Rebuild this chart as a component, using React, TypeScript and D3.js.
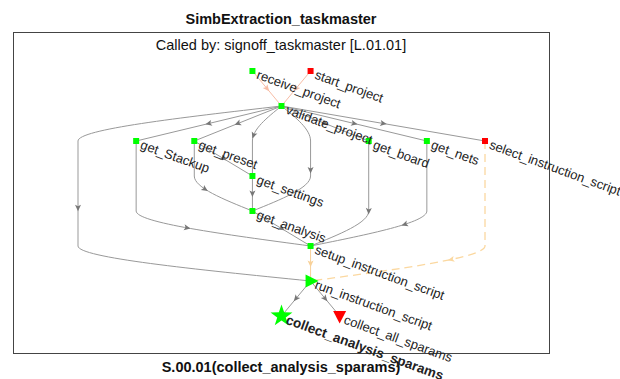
import React, { useEffect, useRef } from "react";
import * as d3 from "d3";

const W = 620;
const H = 379;

const titleText = "SimbExtraction_taskmaster";
const subtitleText = "Called by: signoff_taskmaster [L.01.01]";
const xlabelText = "S.00.01(collect_analysis_sparams)";

// Layered layout: column index and layer index of each node
const nodeNames = [
  "receive_project",
  "start_project",
  "validate_project",
  "get_Stackup",
  "get_preset",
  "get_settings",
  "get_analysis",
  "get_board",
  "get_nets",
  "select_instruction_script",
  "setup_instruction_script",
  "run_instruction_script",
  "collect_analysis_sparams",
  "collect_all_sparams",
];
const nodeCol = [3, 4, 3.5, 1, 2, 3, 3, 5, 6, 7, 4, 4, 3.5, 4.5];
const nodeLayer = [0, 0, 1, 2, 2, 3, 4, 2, 2, 2, 5, 6, 7, 7];
const nodeMarker = [
  "square", "square", "square", "square", "square", "square", "square",
  "square", "square", "square", "square", "triRight", "star", "triDown",
];
const nodeColor = [
  "#00ff00", "#ff0000", "#00ff00", "#00ff00", "#00ff00", "#00ff00", "#00ff00",
  "#00ff00", "#00ff00", "#ff0000", "#00ff00", "#00ff00", "#00ff00", "#ff0000",
];
const nodeBold = [false, false, false, false, false, false, false, false, false, false, false, false, true, false];

// Edges (source, target, intermediate routing points as [col, layer], style)
const edgeSource = [
  "start_project", "receive_project",
  "validate_project", "validate_project", "validate_project", "validate_project",
  "validate_project", "validate_project", "validate_project", "validate_project",
  "get_Stackup", "get_preset", "get_preset", "get_settings", "get_analysis",
  "get_board", "get_nets", "select_instruction_script", "setup_instruction_script",
  "run_instruction_script", "run_instruction_script",
];
const edgeTarget = [
  "validate_project", "validate_project",
  "get_Stackup", "get_preset", "get_settings", "get_analysis",
  "get_board", "get_nets", "select_instruction_script", "run_instruction_script",
  "setup_instruction_script", "get_settings", "get_analysis", "get_analysis", "setup_instruction_script",
  "setup_instruction_script", "setup_instruction_script", "run_instruction_script", "run_instruction_script",
  "collect_analysis_sparams", "collect_all_sparams",
];
const edgeVia: [number, number][][] = [
  [], [],
  [], [], [[3, 2]], [[4, 2], [4, 3]],
  [], [], [], [[0, 2], [0, 3], [0, 4], [0, 5]],
  [[1, 3], [1, 4]], [], [[2, 3]], [], [],
  [[5, 3], [5, 4]], [[6, 3], [6, 4]], [[7, 3], [7, 4], [7, 5]], [],
  [], [],
];
const edgeKind = [
  "salmon", "salmon",
  "grey", "grey", "grey", "grey", "grey", "grey", "grey", "grey",
  "grey", "grey", "grey", "grey", "grey",
  "grey", "grey", "dashed", "amber",
  "grey", "grey",
];

const edgeStyles: Record<string, { color: string; dash: string | null; width: number }> = {
  grey: { color: "#999999", dash: null, width: 1 },
  salmon: { color: "#f7bca5", dash: null, width: 1 },
  amber: { color: "#f8d199", dash: null, width: 1 },
  dashed: { color: "#fbd8a0", dash: "8,5", width: 1.3 },
};

function starPath(rOut: number, rIn: number) {
  const pts: string[] = [];
  for (let i = 0; i < 10; i++) {
    const r = i % 2 === 0 ? rOut : rIn;
    const a = -Math.PI / 2 + (i * Math.PI) / 5;
    pts.push(`${(r * Math.cos(a)).toFixed(2)},${(r * Math.sin(a)).toFixed(2)}`);
  }
  return "M" + pts.join("L") + "Z";
}

export default function App() {
  const ref = useRef<SVGSVGElement | null>(null);

  useEffect(() => {
    const svg = d3.select(ref.current);
    svg.selectAll("*").remove();

    const x = d3.scaleLinear().domain([0, 7]).range([78, 485]);
    const y = d3.scaleLinear().domain([0, 7]).range([71, 316]);
    const font = "'Liberation Sans', Arial, Helvetica, sans-serif";

    const idx = (n: string) => nodeNames.indexOf(n);

    // axes box
    svg
      .append("rect")
      .attr("x", 13.5)
      .attr("y", 32.5)
      .attr("width", 536)
      .attr("height", 321)
      .attr("fill", "white")
      .attr("stroke", "#444")
      .attr("stroke-width", 1);

    svg
      .append("text")
      .attr("x", 281)
      .attr("y", 24)
      .attr("text-anchor", "middle")
      .attr("font-family", font)
      .attr("font-size", 14.5)
      .attr("font-weight", "bold")
      .attr("fill", "#111")
      .text(titleText);

    svg
      .append("text")
      .attr("x", 281)
      .attr("y", 50)
      .attr("text-anchor", "middle")
      .attr("font-family", font)
      .attr("font-size", 14.5)
      .attr("fill", "#111")
      .text(subtitleText);

    svg
      .append("text")
      .attr("x", 281)
      .attr("y", 372)
      .attr("text-anchor", "middle")
      .attr("font-family", font)
      .attr("font-size", 14.5)
      .attr("font-weight", "bold")
      .attr("fill", "#111")
      .text(xlabelText);

    const line = d3
      .line<[number, number]>()
      .x((d) => d[0])
      .y((d) => d[1])
      .curve(d3.curveMonotoneY);

    const gEdges = svg.append("g");
    const gArrows = svg.append("g");

    edgeSource.forEach((s, i) => {
      const si = idx(s);
      const ti = idx(edgeTarget[i]);
      const pts: [number, number][] = [
        [x(nodeCol[si]), y(nodeLayer[si])],
        ...edgeVia[i].map((p) => [x(p[0]), y(p[1])] as [number, number]),
        [x(nodeCol[ti]), y(nodeLayer[ti])],
      ];
      const st = edgeStyles[edgeKind[i]];
      const path = gEdges
        .append("path")
        .attr("d", line(pts) as string)
        .attr("fill", "none")
        .attr("stroke", st.color)
        .attr("stroke-width", st.width);
      if (st.dash) path.attr("stroke-dasharray", st.dash);

      const el = path.node() as SVGPathElement;
      const L = el.getTotalLength();
      const p0 = el.getPointAtLength(L * 0.5 - 1);
      const p1 = el.getPointAtLength(L * 0.5 + 1);
      const pm = el.getPointAtLength(L * 0.5);
      const ang = (Math.atan2(p1.y - p0.y, p1.x - p0.x) * 180) / Math.PI;
      gArrows
        .append("path")
        .attr("d", "M-3,-3 L3.5,0 L-3,3 L-1.5,0 Z")
        .attr("transform", `translate(${pm.x},${pm.y}) rotate(${ang})`)
        .attr("fill", st.color === edgeStyles.grey.color ? "#777" : st.color);
    });

    // nodes
    const gNodes = svg.append("g");
    nodeNames.forEach((n, i) => {
      const cx = x(nodeCol[i]);
      const cy = y(nodeLayer[i]);
      const m = nodeMarker[i];
      let d = "";
      if (m === "square") d = "M-3,-3H3V3H-3Z";
      else if (m === "triRight") d = "M-5,-6.5L8,0L-5,6.5Z";
      else if (m === "triDown") d = "M-6.5,-5H6.5L0,7.5Z";
      else if (m === "star") d = starPath(11.5, 4.5);
      gNodes
        .append("path")
        .attr("d", d)
        .attr("transform", `translate(${cx},${cy})`)
        .attr("fill", nodeColor[i]);
    });

    // labels
    const gLabels = svg.append("g");
    nodeNames.forEach((n, i) => {
      const cx = x(nodeCol[i]);
      const cy = y(nodeLayer[i]);
      gLabels
        .append("text")
        .attr("transform", `translate(${cx + 5},${cy + 3}) rotate(20)`)
        .attr("dy", "0.35em")
        .attr("font-family", font)
        .attr("font-size", nodeBold[i] ? 13.5 : 13)
        .attr("font-weight", nodeBold[i] ? "bold" : "normal")
        .attr("fill", "#222")
        .text(n);
    });
  }, []);

  return (
    <div style={{ position: "fixed", left: 0, top: 0, width: W, height: H, background: "white" }}>
      <svg ref={ref} width={W} height={H} style={{ display: "block" }} />
    </div>
  );
}
